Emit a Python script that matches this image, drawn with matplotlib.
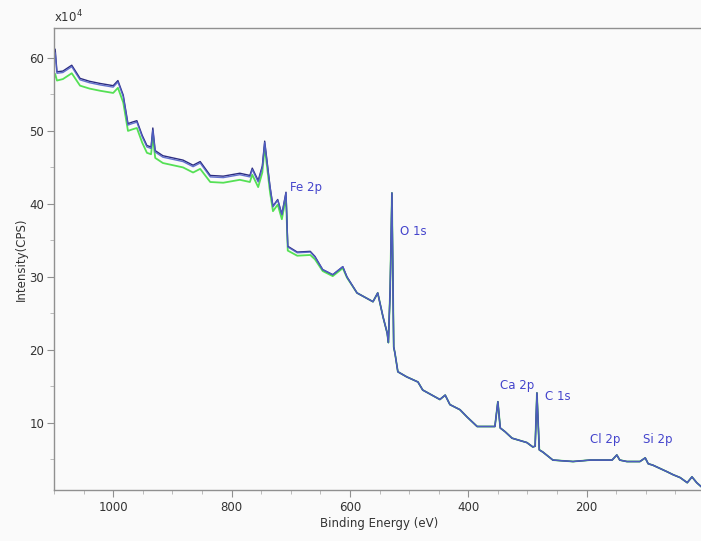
import matplotlib
matplotlib.use("Agg")
import matplotlib.pyplot as plt
from matplotlib.ticker import MultipleLocator

# XPS survey, intensity in units of 1e4 CPS
be = [1100, 1098, 1095, 1085, 1070, 1056, 1040, 1022, 1000, 992,
      983, 975, 968, 960, 951, 943, 936, 933, 929, 916,
      882, 865, 853, 836, 814, 786, 769, 765, 755, 748,
      744, 735, 730, 722, 715, 708, 705, 689, 667, 659,
      646, 629, 612, 605, 588, 561, 553, 544, 537, 535,
      532, 529, 526, 524, 519, 504, 485, 477, 448, 439,
      431, 414, 402, 385, 355, 350, 346, 338, 326, 301,
      291, 287, 284, 280, 274, 257, 223, 194, 157, 149,
      144, 132, 110, 101, 96, 88, 64, 54, 42, 30,
      22, 14, 7]

blue = [58.5, 60.7, 57.9, 58.0, 58.8, 57.0, 56.6, 56.3, 56.0, 56.7,
        54.7, 50.8, 51.0, 51.2, 49.2, 47.8, 47.6, 50.1, 47.1, 46.4,
        45.8, 45.1, 45.6, 43.7, 43.6, 44.0, 43.7, 44.7, 43.0, 45.0,
        48.4, 42.3, 39.6, 40.5, 38.5, 41.5, 34.1, 33.3, 33.4, 32.7,
        31.0, 30.3, 31.4, 30.0, 27.8, 26.6, 27.8, 24.5, 22.3, 21.0,
        28.2, 41.5, 20.4, 19.6, 17.0, 16.3, 15.6, 14.5, 13.2, 13.8,
        12.5, 11.8, 10.8, 9.5, 9.5, 12.9, 9.3, 8.8, 7.9, 7.3,
        6.7, 6.8, 14.1, 6.3, 6.0, 4.9, 4.7, 4.9, 4.9, 5.6,
        4.9, 4.7, 4.7, 5.2, 4.4, 4.2, 3.3, 2.9, 2.5, 1.8,
        2.6, 1.8, 1.3]

navy = [58.8, 61.2, 58.1, 58.2, 59.0, 57.2, 56.8, 56.5, 56.2, 56.9,
        54.9, 51.0, 51.2, 51.4, 49.4, 48.0, 47.8, 50.4, 47.3, 46.6,
        46.0, 45.3, 45.8, 43.9, 43.8, 44.2, 43.9, 44.9, 43.2, 45.2,
        48.6, 42.4, 39.7, 40.6, 38.6, 41.6, 34.2, 33.4, 33.5, 32.8,
        31.0, 30.3, 31.4, 30.0, 27.8, 26.6, 27.8, 24.5, 22.3, 21.0,
        28.2, 41.5, 20.4, 19.6, 17.0, 16.3, 15.6, 14.5, 13.2, 13.8,
        12.5, 11.8, 10.8, 9.5, 9.5, 12.9, 9.3, 8.8, 7.9, 7.3,
        6.7, 6.8, 14.1, 6.3, 6.0, 4.9, 4.7, 4.9, 4.9, 5.6,
        4.9, 4.7, 4.7, 5.2, 4.4, 4.2, 3.3, 2.9, 2.5, 1.8,
        2.6, 1.8, 1.3]

green = [57.2, 57.8, 56.9, 57.1, 57.9, 56.2, 55.8, 55.5, 55.2, 55.9,
         53.9, 50.0, 50.2, 50.4, 48.4, 47.0, 46.8, 49.2, 46.3, 45.6,
         45.0, 44.3, 44.8, 43.0, 42.9, 43.3, 43.0, 44.0, 42.3, 44.3,
         47.8, 41.6, 39.0, 39.9, 37.9, 40.9, 33.6, 32.9, 33.0, 32.4,
         30.8, 30.1, 31.2, 29.9, 27.8, 26.6, 27.8, 24.5, 22.3, 21.0,
         28.2, 41.5, 20.4, 19.6, 17.0, 16.3, 15.6, 14.5, 13.2, 13.8,
         12.5, 11.8, 10.8, 9.5, 9.5, 12.9, 9.3, 8.8, 7.9, 7.3,
         6.7, 6.8, 14.1, 6.3, 6.0, 4.9, 4.7, 4.9, 4.9, 5.6,
         4.9, 4.7, 4.7, 5.2, 4.4, 4.2, 3.3, 2.9, 2.5, 1.8,
         2.6, 1.8, 1.3]

peak_names = ["Fe 2p", "O 1s", "Ca 2p", "C 1s", "Cl 2p", "Si 2p"]
label_be = [701, 515, 346, 270, 194, 105]
label_y = [42.2, 36.2, 15.1, 13.6, 7.7, 7.7]

bg = "#fafafa"
fig = plt.figure(figsize=(7.01, 5.41), dpi=100, facecolor=bg)
ax = fig.add_axes([54 / 701, 1 - 490 / 541, 651 / 701, 462 / 541], facecolor=bg)

ax.plot(be, green, color="#55e055", lw=1.3)
ax.plot(be, navy, color="#2c2c80", lw=1.0)
ax.plot(be, blue, color="#5262c8", lw=1.0, alpha=0.9)

for name, x, y in zip(peak_names, label_be, label_y):
    ax.text(x, y, name, color="#4444cc", fontsize=8.5, va="center", ha="left")

ax.set_xlim(1100, 0)
ax.set_ylim(0.8, 64.1)
ax.xaxis.set_major_locator(MultipleLocator(200))
ax.xaxis.set_minor_locator(MultipleLocator(50))
ax.yaxis.set_minor_locator(MultipleLocator(5))
ax.set_yticks([10, 20, 30, 40, 50, 60])

for s in ax.spines.values():
    s.set_color("#909090")
    s.set_linewidth(1.0)

ax.tick_params(axis="both", which="major", length=5, color="#909090",
               labelsize=8.5, labelcolor="#333333")
ax.tick_params(axis="both", which="minor", length=3, color="#b0b0b0")
ax.tick_params(axis="x", pad=3)
ax.tick_params(axis="y", pad=2)

ax.set_xlabel("Binding Energy (eV)", fontsize=8.5, color="#333333", labelpad=2)
ax.set_ylabel("Intensity(CPS)", fontsize=8.5, color="#333333", labelpad=1)
ax.text(0.0, 1.005, r"x10$^4$", transform=ax.transAxes, fontsize=8.5,
        color="#333333", ha="left", va="bottom")

fig.savefig("out.png", dpi=100, facecolor=bg)
